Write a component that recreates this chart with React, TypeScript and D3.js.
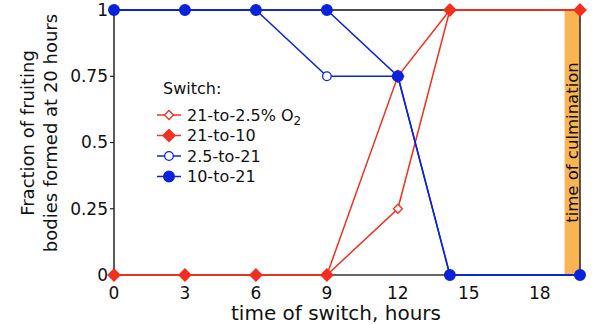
import React from "react";
import * as d3 from "d3";

const times = [0, 3, 6, 9, 12, 14.2, 19.7];
const s21to2_5 = [0, 0, 0, 0, 0.25, 1, 1];
const s21to10 = [0, 0, 0, 0, 0.75, 1, 1];
const s2_5to21 = [1, 1, 1, 0.75, 0.75, 0, 0];
const s10to21 = [1, 1, 1, 1, 0.75, 0, 0];
const xTicks = [0, 3, 6, 9, 12, 15, 18];
const yTicks = [0, 0.25, 0.5, 0.75, 1];
const yTickLabels = ["0", "0.25", "0.5", "0.75", "1"];
const culmination = [19.05, 19.7];

const RED = "#f2301f";
const BLUE = "#0a22dc";
const FONT = "DejaVu Sans, Verdana, sans-serif";

type Series = { name: string; values: number[]; color: string; shape: "diamond" | "circle"; open: boolean };
const series: Series[] = [
  { name: "21-to-2.5% O", values: s21to2_5, color: RED, shape: "diamond", open: true },
  { name: "21-to-10", values: s21to10, color: RED, shape: "diamond", open: false },
  { name: "2.5-to-21", values: s2_5to21, color: BLUE, shape: "circle", open: true },
  { name: "10-to-21", values: s10to21, color: BLUE, shape: "circle", open: false },
];

function Marker({ x, y, s }: { x: number; y: number; s: Series }) {
  if (s.shape === "diamond") {
    const r = s.open ? 4.5 : 6;
    const d = `M${x},${y - r}L${x + r},${y}L${x},${y + r}L${x - r},${y}Z`;
    return <path d={d} fill={s.open ? "white" : s.color} stroke={s.color} strokeWidth={1.3} />;
  }
  return <circle cx={x} cy={y} r={s.open ? 4.3 : 5.3} fill={s.open ? "white" : s.color} stroke={s.color} strokeWidth={1.3} />;
}

export default function App() {
  const W = 598, H = 324;
  const x = d3.scaleLinear().domain([0, 19.7]).range([114, 580]);
  const y = d3.scaleLinear().domain([0, 1]).range([275, 10]);
  const line = d3.line<[number, number]>().x((d) => x(d[0])).y((d) => y(d[1]));
  const order = [0, 1, 2, 3];
  const legendY = [115, 135.5, 156, 176.5];
  return (
    <svg width={W} height={H} style={{ position: "absolute", left: 0, top: 0 }} fontFamily={FONT}>
      <rect x={x(culmination[0])} y={y(1)} width={x(culmination[1]) - x(culmination[0])} height={y(0) - y(1)} fill="#fbb454" />
      <text transform={`translate(${(x(culmination[0]) + x(culmination[1])) / 2 + 6},${(y(0) + y(1)) / 2}) rotate(-90)`} textAnchor="middle" fontSize={16.5} fill="#111">time of culmination</text>
      <line x1={x(0)} x2={x(0)} y1={y(0)} y2={y(1)} stroke="#222" strokeWidth={1.5} />
      <line x1={x(0)} x2={x(19.7)} y1={y(0)} y2={y(0)} stroke="#333" strokeWidth={1.5} />
      <line x1={x(0)} x2={x(19.7)} y1={y(1)} y2={y(1)} stroke="#111" strokeWidth={1.5} />
      <line x1={x(19.7)} x2={x(19.7)} y1={y(0)} y2={y(1)} stroke="#222" strokeWidth={1.5} />
      {yTicks.map((t, i) => (
        <g key={t}>
          <line x1={x(0) - 4} x2={x(0)} y1={y(t)} y2={y(t)} stroke="#222" strokeWidth={1.2} />
          <text x={x(0) - 6} y={y(t)} dy="0.35em" textAnchor="end" fontSize={17} fill="#111">{yTickLabels[i]}</text>
        </g>
      ))}
      {xTicks.map((t) => (
        <text key={t} x={x(t)} y={y(0) + 23.5} textAnchor="middle" fontSize={17} fill="#111">{t}</text>
      ))}
      <text x={336} y={320} textAnchor="middle" fontSize={20} fill="#111">time of switch, hours</text>
      <text transform="translate(34,133) rotate(-90)" textAnchor="middle" fontSize={18} fill="#111">Fraction of fruiting</text>
      <text transform="translate(57,133) rotate(-90)" textAnchor="middle" fontSize={18} fill="#111">bodies formed at 20 hours</text>
      {order.map((k) => {
        const s = series[k];
        const pts = times.map((t, i) => [t, s.values[i]] as [number, number]);
        return (
          <g key={s.name}>
            <path d={line(pts) || ""} fill="none" stroke={s.color} strokeWidth={1.5} />
            {pts.map((p, i) => <Marker key={i} x={x(p[0])} y={y(p[1])} s={s} />)}
          </g>
        );
      })}
      <text x={163} y={94} fontSize={16} fill="#111">Switch:</text>
      {series.map((s, i) => (
        <g key={s.name}>
          <line x1={157} x2={181} y1={legendY[i]} y2={legendY[i]} stroke={s.color} strokeWidth={1.5} />
          <Marker x={169} y={legendY[i]} s={s} />
          <text x={187} y={legendY[i]} dy="0.36em" fontSize={16} fill="#111">
            {s.name}
            {i === 0 ? <tspan dy="4" fontSize={12}>2</tspan> : null}
          </text>
        </g>
      ))}
    </svg>
  );
}
